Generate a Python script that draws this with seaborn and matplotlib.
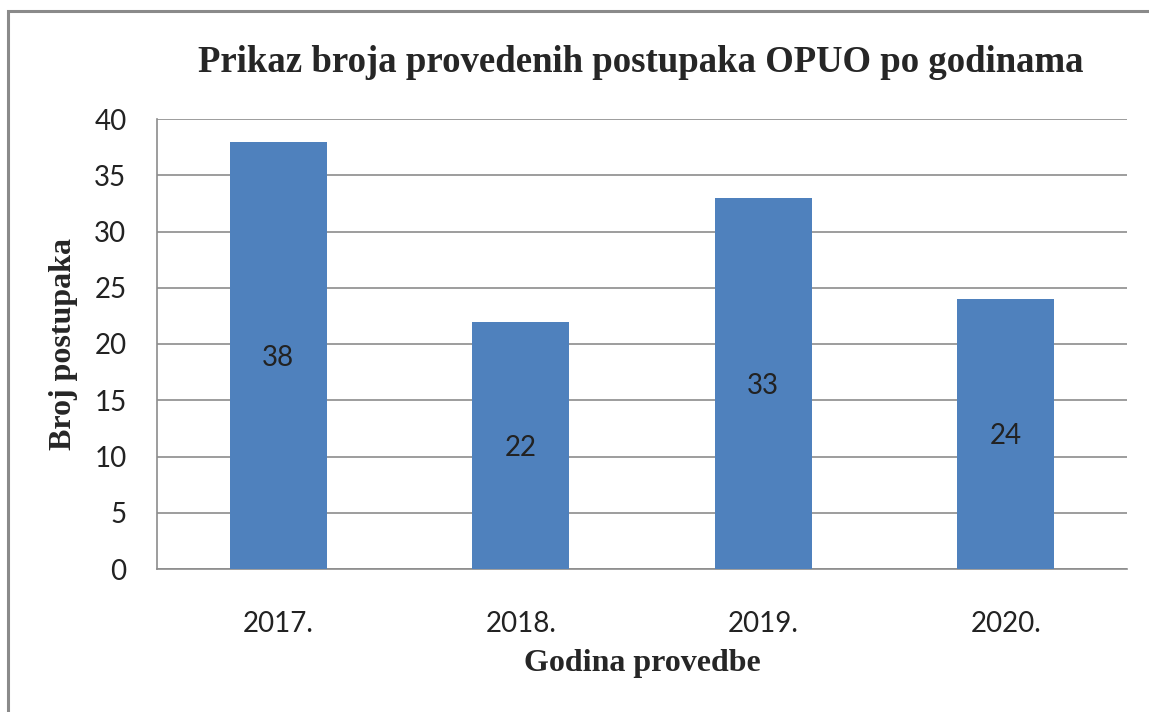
import pandas as pd
import matplotlib
matplotlib.use('Agg')
import matplotlib.pyplot as plt
import seaborn as sns
from matplotlib.patches import Rectangle

godine = ['2017.', '2018.', '2019.', '2020.']
broj_postupaka = [38, 22, 33, 24]

naslov = 'Prikaz broja provedenih postupaka OPUO po godinama'
x_oznaka = 'Godina provedbe'
y_oznaka = 'Broj postupaka'


def create_bar_chart(df):
    sns.set_style('white')
    plt.rcParams['font.family'] = ['Lato', 'DejaVu Sans']

    fig = plt.figure(figsize=(11.49, 7.12), dpi=100)
    ax = fig.add_axes([157 / 1149, 1 - 569 / 712, 970 / 1149, 450 / 712])

    sns.barplot(data=df, x='GODINA', y='BROJ', color='#4F81BD', width=0.4,
                saturation=1, linewidth=0, ax=ax, zorder=3)

    ax.set_ylim(0, 40)
    ax.set_yticks(range(0, 41, 5))
    ax.grid(axis='y', color='#8c8c8c', linewidth=1.2, zorder=0)
    ax.set_axisbelow(True)

    for s in ['top', 'right']:
        ax.spines[s].set_visible(False)
    for s in ['left', 'bottom']:
        ax.spines[s].set_color('#8c8c8c')
        ax.spines[s].set_linewidth(1.2)

    ax.tick_params(axis='y', length=8, width=1.2, color='#8c8c8c', labelsize=20, pad=14)
    ax.tick_params(axis='x', length=0, labelsize=20, pad=30)
    for lbl in ax.get_xticklabels() + ax.get_yticklabels():
        lbl.set_color('#222222')

    for i, v in enumerate(df['BROJ']):
        ax.text(i, v / 2 - 0.2, str(v), ha='center', va='center', fontsize=20, color='#222222')

    serif = ['Liberation Serif', 'DejaVu Serif']
    ax.set_xlabel(x_oznaka, fontsize=23, fontweight='bold', family=serif, labelpad=9)
    ax.set_ylabel(y_oznaka, fontsize=23, fontweight='bold', family=serif, labelpad=12)
    fig.text(641 / 1149, 1 - 62 / 712, naslov, ha='center', va='center',
             fontsize=26.5, fontweight='bold', family=serif)

    fig.patches.append(Rectangle((8 / 1149, -0.2), 1.5, 1 - 11 / 712 + 0.2,
                                 transform=fig.transFigure, fill=False,
                                 edgecolor='#8a8a8a', linewidth=2.2))

    fig.savefig('out.png', dpi=100)


def main():
    df = pd.DataFrame({'GODINA': godine, 'BROJ': broj_postupaka})
    create_bar_chart(df)


if __name__ == '__main__':
    main()
